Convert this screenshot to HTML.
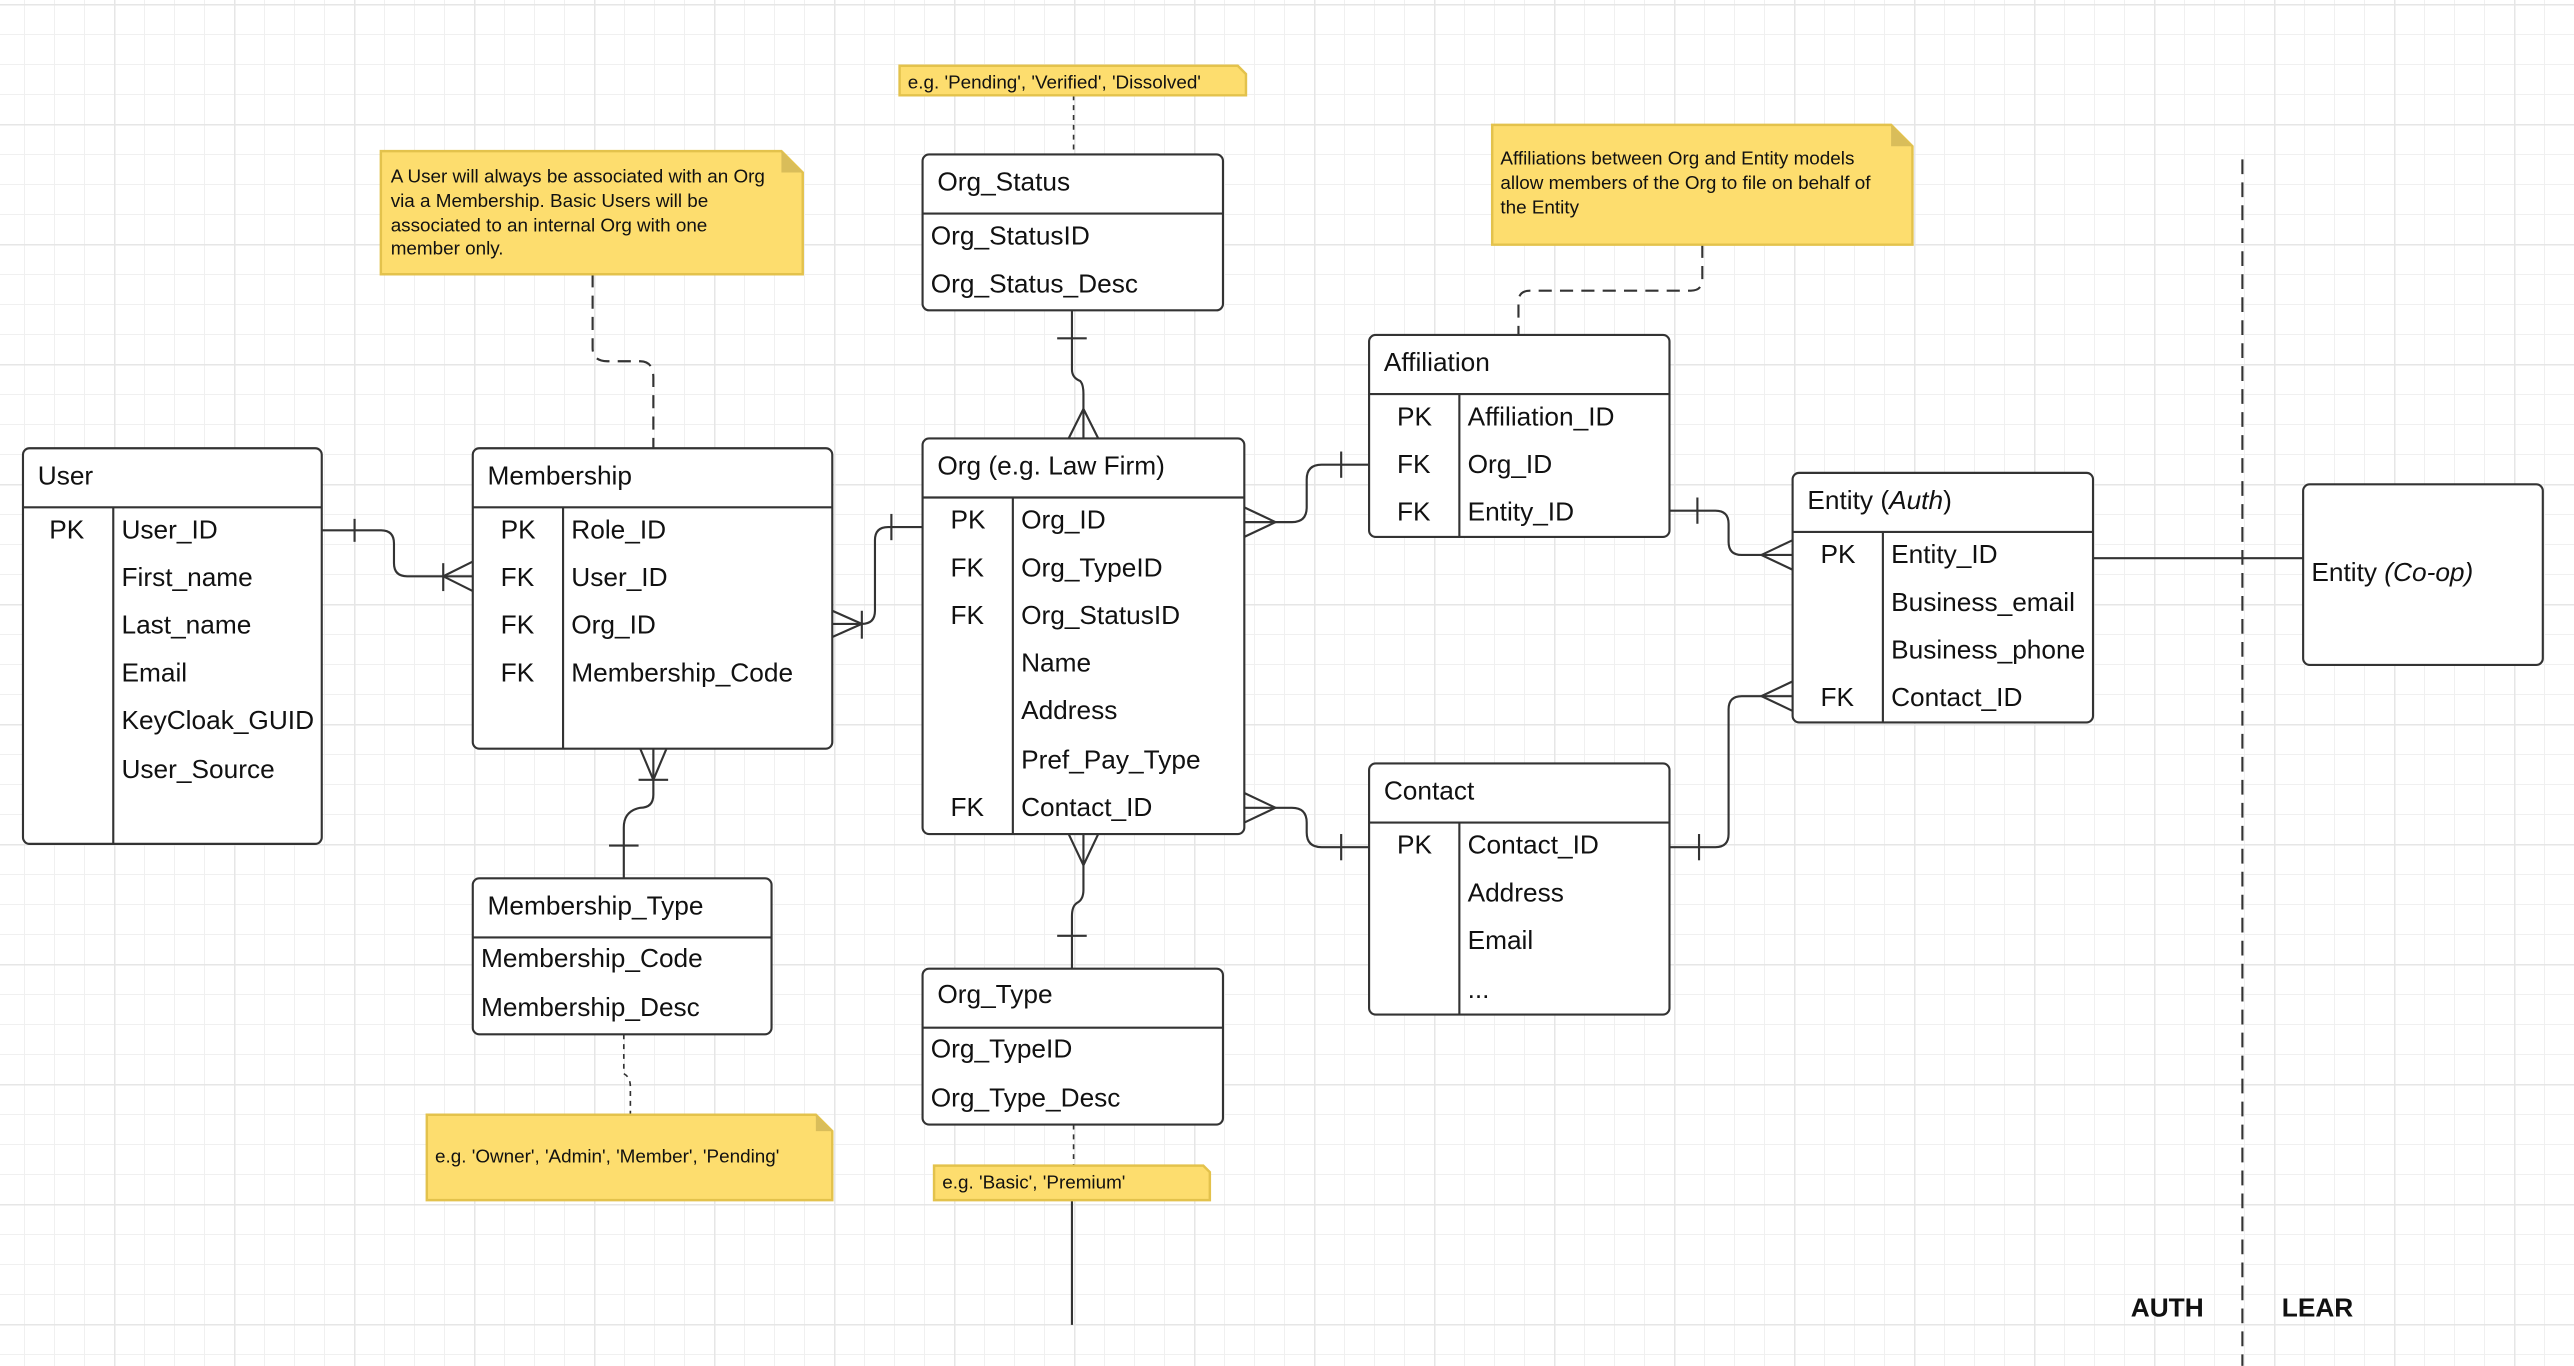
<!DOCTYPE html>
<html><head><meta charset="utf-8">
<style>
html,body{margin:0;padding:0;}
body{width:2574px;height:1366px;overflow:hidden;background-color:#fff;
background-image:
linear-gradient(to right,#e6e6e6 1.5px,transparent 1.5px),
linear-gradient(to bottom,#e6e6e6 1.5px,transparent 1.5px),
linear-gradient(to right,#f0f0f0 1px,transparent 1px),
linear-gradient(to bottom,#f0f0f0 1px,transparent 1px);
background-size:120px 120px,120px 120px,30px 30px,30px 30px;
background-position:114px 4px,114px 4px,114px 4px,114px 4px;}
svg{position:absolute;left:0;top:0;}
text{font-family:"Liberation Sans",sans-serif;fill:#111;}
.f{font-size:16px;}
.n{font-size:11.5px;}
</style></head><body>
<svg width="2574" height="1366" viewBox="0 0 1568 832" xmlns="http://www.w3.org/2000/svg">
<g fill="none" stroke="#333" stroke-width="1.3">
<rect x="14" y="273" width="182" height="241" rx="4" fill="#fff"/>
<line x1="14" y1="309" x2="196" y2="309"/><line x1="69" y1="309" x2="69" y2="514"/>
<rect x="288" y="273" width="219" height="183" rx="4" fill="#fff"/>
<line x1="288" y1="309" x2="507" y2="309"/><line x1="343" y1="309" x2="343" y2="456"/>
<rect x="288" y="535" width="182" height="95" rx="4" fill="#fff"/>
<line x1="288" y1="571" x2="470" y2="571"/>
<rect x="562" y="94" width="183" height="95" rx="4" fill="#fff"/>
<line x1="562" y1="130" x2="745" y2="130"/>
<rect x="562" y="267" width="196" height="241" rx="4" fill="#fff"/>
<line x1="562" y1="303" x2="758" y2="303"/><line x1="617" y1="303" x2="617" y2="508"/>
<rect x="562" y="590" width="183" height="95" rx="4" fill="#fff"/>
<line x1="562" y1="626" x2="745" y2="626"/>
<rect x="834" y="204" width="183" height="123" rx="4" fill="#fff"/>
<line x1="834" y1="240" x2="1017" y2="240"/><line x1="889" y1="240" x2="889" y2="327"/>
<rect x="834" y="465" width="183" height="153" rx="4" fill="#fff"/>
<line x1="834" y1="501" x2="1017" y2="501"/><line x1="889" y1="501" x2="889" y2="618"/>
<rect x="1092" y="288" width="183" height="152" rx="4" fill="#fff"/>
<line x1="1092" y1="324" x2="1275" y2="324"/><line x1="1147" y1="324" x2="1147" y2="440"/>
<rect x="1403" y="295" width="146" height="110" rx="4" fill="#fff"/>

<path d="M196 323 H232 Q240 323 240 331 V343 Q240 351 248 351 H288"/>
<line x1="216" y1="316" x2="216" y2="330"/>
<path d="M288 342 L270 351 L288 360"/><line x1="270" y1="343" x2="270" y2="360"/>
<path d="M507 380 H525 Q533 380 533 372 V329 Q533 321 541 321 H562"/>
<line x1="543" y1="313" x2="543" y2="329"/>
<path d="M507 372 L525 380 L507 388"/><line x1="525" y1="372" x2="525" y2="389"/>
<path d="M398 456 V484 Q398 492 390 492 Q380 494 380 504 V535"/>
<path d="M390 456 L398 475 L406 456"/><line x1="389" y1="475" x2="407" y2="475"/>
<line x1="371" y1="515" x2="389" y2="515"/>
<path d="M653 189 V225 Q653 230 658 232 Q660 234 660 240 V267"/>
<line x1="644" y1="206" x2="662" y2="206"/>
<path d="M651 267 L660 249 L669 267"/>
<path d="M660 508 V542 Q660 548 656 550 Q653 552 653 558 V590"/>
<path d="M651 508 L660 527 L669 508"/>
<line x1="644" y1="570" x2="662" y2="570"/>
<path d="M758 318 H787 Q796 318 796 309 V292 Q796 283 805 283 H834"/>
<path d="M758 309 L777 318 L758 327"/>
<line x1="817" y1="275" x2="817" y2="291"/>
<path d="M758 492 H787 Q796 492 796 501 V507 Q796 516 805 516 H834"/>
<path d="M758 483 L777 492 L758 501"/>
<line x1="817" y1="508" x2="817" y2="524"/>
<path d="M1017 311 H1045 Q1053 311 1053 319 V330 Q1053 338 1061 338 H1092"/>
<line x1="1034" y1="303" x2="1034" y2="319"/>
<path d="M1092 329 L1073 338 L1092 347"/>
<path d="M1017 516 H1045 Q1053 516 1053 508 V432 Q1053 424 1061 424 H1092"/>
<line x1="1035" y1="508" x2="1035" y2="524"/>
<path d="M1092 415 L1073 424 L1092 433"/>
<line x1="1275" y1="340" x2="1403" y2="340"/>
<line x1="653" y1="731" x2="653" y2="807"/>
<line x1="1366" y1="97" x2="1366" y2="832" stroke-dasharray="9 5"/>
<path d="M361 167 V212 Q361 220 370 220 H390 Q398 220 398 230 V273" stroke-dasharray="8 5"/>
<line x1="654" y1="58" x2="654" y2="94" stroke-dasharray="3 3" stroke-width="1"/>
<path d="M1037 149 V170 Q1037 177 1030 177 H932 Q925 177 925 184 V204" stroke-dasharray="8 5"/>
<path d="M380 630 V654 Q384 656 384 662 V679" stroke-dasharray="3 3" stroke-width="1"/>
<line x1="654" y1="685" x2="654" y2="710" stroke-dasharray="3 3" stroke-width="1"/>
</g>

<g stroke="#e3c24c" stroke-width="1.5">
<path d="M232 92 H476 L489 105 V167 H232 Z" fill="#fddd6e"/>
<path d="M476 92 V105 H489 Z" fill="#d9bd5a" stroke="none"/>
<path d="M548 40 H754 L759 45 V58 H548 Z" fill="#fddd6e"/>
<path d="M909 76 H1152 L1165 89 V149 H909 Z" fill="#fddd6e"/>
<path d="M1152 76 V89 H1165 Z" fill="#d9bd5a" stroke="none"/>
<path d="M260 679 H497 L507 689 V731 H260 Z" fill="#fddd6e"/>
<path d="M497 679 V689 H507 Z" fill="#d9bd5a" stroke="none"/>
<path d="M569 710 H733 L737 714 V731 H569 Z" fill="#fddd6e"/>
</g>
<text class="n" x="238" y="111">A User will always be associated with an Org</text>
<text class="n" x="238" y="126">via a Membership.  Basic Users will be</text>
<text class="n" x="238" y="141">associated to an internal Org with one</text>
<text class="n" x="238" y="155">member only.</text>
<text class="n" x="553" y="54">e.g. 'Pending', 'Verified', 'Dissolved'</text>
<text class="n" x="914" y="100">Affiliations between Org and Entity models</text>
<text class="n" x="914" y="115">allow members of the Org to file on behalf of</text>
<text class="n" x="914" y="130">the Entity</text>
<text class="n" x="265" y="708">e.g. 'Owner', 'Admin', 'Member', 'Pending'</text>
<text class="n" x="574" y="724">e.g. 'Basic', 'Premium'</text>

<g class="f">
<text class="f" x="23" y="295">User</text>
<text class="f" x="30" y="328">PK</text>
<text class="f" x="74" y="328">User_ID</text>
<text class="f" x="74" y="357">First_name</text>
<text class="f" x="74" y="386">Last_name</text>
<text class="f" x="74" y="415">Email</text>
<text class="f" x="74" y="444">KeyCloak_GUID</text>
<text class="f" x="74" y="474">User_Source</text>

<text class="f" x="297" y="295">Membership</text>
<text class="f" x="305" y="328">PK</text><text class="f" x="348" y="328">Role_ID</text>
<text class="f" x="305" y="357">FK</text><text class="f" x="348" y="357">User_ID</text>
<text class="f" x="305" y="386">FK</text><text class="f" x="348" y="386">Org_ID</text>
<text class="f" x="305" y="415">FK</text><text class="f" x="348" y="415">Membership_Code</text>

<text class="f" x="297" y="557">Membership_Type</text>
<text class="f" x="293" y="589">Membership_Code</text>
<text class="f" x="293" y="619">Membership_Desc</text>

<text class="f" x="571" y="116">Org_Status</text>
<text class="f" x="567" y="149">Org_StatusID</text>
<text class="f" x="567" y="178">Org_Status_Desc</text>

<text class="f" x="571" y="289">Org (e.g. Law Firm)</text>
<text class="f" x="579" y="322">PK</text><text class="f" x="622" y="322">Org_ID</text>
<text class="f" x="579" y="351">FK</text><text class="f" x="622" y="351">Org_TypeID</text>
<text class="f" x="579" y="380">FK</text><text class="f" x="622" y="380">Org_StatusID</text>
<text class="f" x="622" y="409">Name</text>
<text class="f" x="622" y="438">Address</text>
<text class="f" x="622" y="468">Pref_Pay_Type</text>
<text class="f" x="579" y="497">FK</text><text class="f" x="622" y="497">Contact_ID</text>

<text class="f" x="571" y="611">Org_Type</text>
<text class="f" x="567" y="644">Org_TypeID</text>
<text class="f" x="567" y="674">Org_Type_Desc</text>

<text class="f" x="843" y="226">Affiliation</text>
<text class="f" x="851" y="259">PK</text><text class="f" x="894" y="259">Affiliation_ID</text>
<text class="f" x="851" y="288">FK</text><text class="f" x="894" y="288">Org_ID</text>
<text class="f" x="851" y="317">FK</text><text class="f" x="894" y="317">Entity_ID</text>

<text class="f" x="843" y="487">Contact</text>
<text class="f" x="851" y="520">PK</text><text class="f" x="894" y="520">Contact_ID</text>
<text class="f" x="894" y="549">Address</text>
<text class="f" x="894" y="578">Email</text>
<text class="f" x="894" y="608">...</text>

<text class="f" x="1101" y="310">Entity (<tspan font-style="italic">Auth</tspan>)</text>
<text class="f" x="1109" y="343">PK</text><text class="f" x="1152" y="343">Entity_ID</text>
<text class="f" x="1152" y="372">Business_email</text>
<text class="f" x="1152" y="401">Business_phone</text>
<text class="f" x="1109" y="430">FK</text><text class="f" x="1152" y="430">Contact_ID</text>

<text class="f" x="1408" y="354">Entity <tspan font-style="italic">(Co-op)</tspan></text>
</g>
<text x="1298" y="802" style="font-size:16px;font-weight:bold">AUTH</text>
<text x="1390" y="802" style="font-size:16px;font-weight:bold">LEAR</text>
</svg>
</body></html>
